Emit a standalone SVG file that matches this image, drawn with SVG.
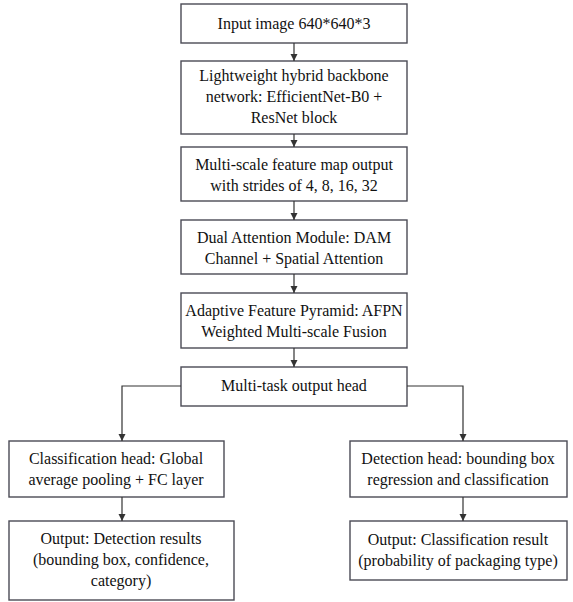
<svg xmlns="http://www.w3.org/2000/svg" width="573" height="602" viewBox="0 0 573 602">
<defs>
<marker id="ah" markerWidth="8" markerHeight="8" refX="7" refY="4" orient="auto" markerUnits="userSpaceOnUse">
<path d="M0,0.5 L7,4 L0,7.5 Z" fill="#333"/>
</marker>
<style>
.b{fill:#fff;stroke:#4a4a55;stroke-width:1.4}
.t{font-family:"Liberation Serif","Times New Roman",serif;font-size:16px;fill:#111;text-anchor:middle}
.c{fill:none;stroke:#333;stroke-width:1.2;marker-end:url(#ah)}
</style>
</defs>
<rect width="573" height="602" fill="#fff"/>
<g id="n1"><rect class="b" x="181" y="4" width="226" height="39"/><text class="t" x="294" y="29">Input image 640*640*3</text></g>
<g id="n2"><rect class="b" x="181" y="61" width="226" height="73"/><text class="t" x="294" y="81">Lightweight hybrid backbone</text><text class="t" x="294" y="102">network: EfficientNet-B0 +</text><text class="t" x="294" y="123">ResNet block</text></g>
<g id="n3"><rect class="b" x="181" y="147" width="226" height="54"/><text class="t" x="294" y="170">Multi-scale feature map output</text><text class="t" x="294" y="191">with strides of 4, 8, 16, 32</text></g>
<g id="n4"><rect class="b" x="181" y="220" width="226" height="54"/><text class="t" x="294" y="243">Dual Attention Module: DAM</text><text class="t" x="294" y="264">Channel + Spatial Attention</text></g>
<g id="n5"><rect class="b" x="181" y="293" width="226" height="55"/><text class="t" x="294" y="316">Adaptive Feature Pyramid: AFPN</text><text class="t" x="294" y="337">Weighted Multi-scale Fusion</text></g>
<g id="n6"><rect class="b" x="181" y="367" width="226" height="39"/><text class="t" x="294" y="391">Multi-task output head</text></g>
<g id="n7"><rect class="b" x="9" y="441" width="215" height="56"/><text class="t" x="116" y="464">Classification head: Global</text><text class="t" x="116" y="485">average pooling + FC layer</text></g>
<g id="n8"><rect class="b" x="350" y="441" width="217" height="56"/><text class="t" x="458" y="464">Detection head: bounding box</text><text class="t" x="458" y="485">regression and classification</text></g>
<g id="n9"><rect class="b" x="9" y="521" width="225" height="79"/><text class="t" x="121" y="544">Output: Detection results</text><text class="t" x="121" y="565">(bounding box, confidence,</text><text class="t" x="121" y="586">category)</text></g>
<g id="n10"><rect class="b" x="350" y="521" width="217" height="59"/><text class="t" x="458" y="545">Output: Classification result</text><text class="t" x="458" y="566">(probability of packaging type)</text></g>
<g id="connectors">
<path class="c" d="M294,43 V61"/>
<path class="c" d="M294,134 V147"/>
<path class="c" d="M294,201 V220"/>
<path class="c" d="M294,274 V293"/>
<path class="c" d="M294,348 V367"/>
<path class="c" d="M181,386 H122 V441"/>
<path class="c" d="M407,386 H463 V441"/>
<path class="c" d="M122,497 V521"/>
<path class="c" d="M463,497 V521"/>
</g>
</svg>
